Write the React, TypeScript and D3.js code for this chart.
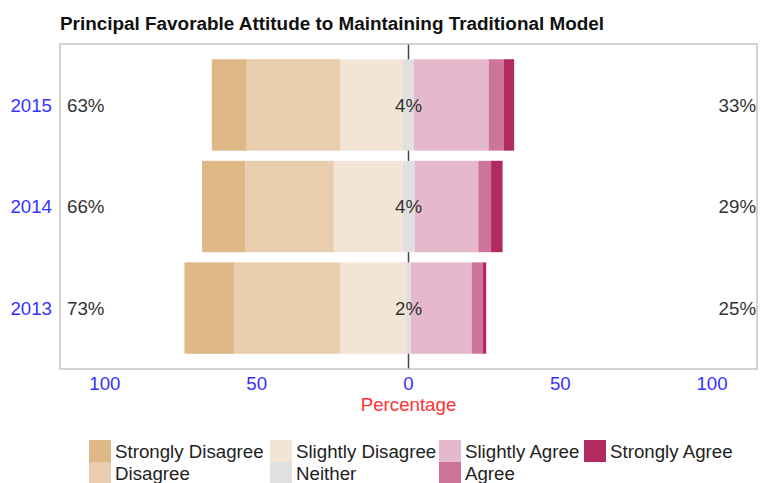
import React from "react";
import * as d3 from "d3";

const years = ["2015", "2014", "2013"];
const categories = [
  "Strongly Disagree",
  "Disagree",
  "Slightly Disagree",
  "Neither",
  "Slightly Agree",
  "Agree",
  "Strongly Agree",
];
const colors = ["#DEB887", "#E8CDAE", "#F3E5D5", "#E0E0E0", "#E6B8CB", "#CC7598", "#B22B60"];

// values per year, in category order
const stronglyDisagree = [11.5, 14.2, 16.3];
const disagree = [30.8, 29.2, 34.9];
const slightlyDisagree = [20.7, 22.6, 21.8];
const neither = [3.6, 4.0, 1.6];
const slightlyAgree = [24.6, 21.0, 20.0];
const agree = [5.0, 4.2, 3.6];
const stronglyAgree = [3.4, 3.8, 1.2];

const tickValues = [-100, -50, 0, 50, 100];

const title = "Principal Favorable Attitude to Maintaining Traditional Model";
const xTitle = "Percentage";

const W = 760;
const H = 483;
const FONT = "'Liberation Sans', Arial, Helvetica, sans-serif";

export default function App() {
  const panel = { left: 60, right: 757, top: 44, bottom: 369 };
  const x = d3.scaleLinear().domain([-114.8, 114.8]).range([panel.left, panel.right]);
  const y = d3
    .scaleBand<string>()
    .domain(years)
    .range([panel.top, panel.bottom])
    .paddingInner(0.1)
    .paddingOuter(0.15);

  const series = [
    stronglyDisagree,
    disagree,
    slightlyDisagree,
    neither,
    slightlyAgree,
    agree,
    stronglyAgree,
  ];

  const segs: { year: string; cat: number; x0: number; x1: number }[] = [];
  years.forEach((yr, i) => {
    const n = neither[i];
    segs.push({ year: yr, cat: 3, x0: -n / 2, x1: n / 2 });
    let cur = -n / 2;
    [2, 1, 0].forEach((c) => {
      const v = series[c][i];
      segs.push({ year: yr, cat: c, x0: cur - v, x1: cur });
      cur -= v;
    });
    cur = n / 2;
    [4, 5, 6].forEach((c) => {
      const v = series[c][i];
      segs.push({ year: yr, cat: c, x0: cur, x1: cur + v });
      cur += v;
    });
  });

  const leftPct = years.map((_, i) => Math.round(stronglyDisagree[i] + disagree[i] + slightlyDisagree[i]));
  const rightPct = years.map((_, i) => Math.round(slightlyAgree[i] + agree[i] + stronglyAgree[i]));
  const midPct = years.map((_, i) => Math.round(neither[i]));

  const bw = y.bandwidth();
  const fs = 18.7;

  const legendCols = [89, 270, 439, 584];
  const legendItems = [
    { cat: 0, col: 0, row: 0 },
    { cat: 1, col: 0, row: 1 },
    { cat: 2, col: 1, row: 0 },
    { cat: 3, col: 1, row: 1 },
    { cat: 4, col: 2, row: 0 },
    { cat: 5, col: 2, row: 1 },
    { cat: 6, col: 3, row: 0 },
  ];

  return (
    <svg
      width={W}
      height={H}
      style={{ position: "absolute", left: 0, top: 0, background: "#fff" }}
      fontFamily={FONT}
    >
      <rect x={0} y={0} width={W} height={H} fill="#fff" />
      <text x={60} y={30} fontSize={18.9} fontWeight="bold" fill="#111">
        {title}
      </text>

      <line
        x1={x(0)}
        x2={x(0)}
        y1={panel.top}
        y2={panel.bottom}
        stroke="#444"
        strokeWidth={1.5}
      />

      {segs.map((s, k) => (
        <rect
          key={k}
          x={x(s.x0)}
          y={y(s.year)!}
          width={x(s.x1) - x(s.x0)}
          height={bw}
          fill={colors[s.cat]}
        />
      ))}

      <rect
        x={panel.left}
        y={panel.top}
        width={panel.right - panel.left}
        height={panel.bottom - panel.top}
        fill="none"
        stroke="#C4C4C4"
        strokeWidth={1.5}
      />

      {years.map((yr, i) => {
        const cy = y(yr)! + bw / 2 + 6.7;
        return (
          <g key={yr} fontSize={fs}>
            <text x={52} y={cy} textAnchor="end" fill="#3333FF">
              {yr}
            </text>
            <text x={67} y={cy} fill="#333">
              {leftPct[i]}%
            </text>
            <text x={x(0)} y={cy} textAnchor="middle" fill="#333">
              {midPct[i]}%
            </text>
            <text x={756} y={cy} textAnchor="end" fill="#333">
              {rightPct[i]}%
            </text>
          </g>
        );
      })}

      {tickValues.map((t) => (
        <text key={t} x={x(t)} y={390} textAnchor="middle" fontSize={fs} fill="#3333FF">
          {Math.abs(t)}
        </text>
      ))}
      <text x={x(0)} y={411} textAnchor="middle" fontSize={fs} fill="#FF3333">
        {xTitle}
      </text>

      {legendItems.map((it) => {
        const kx = legendCols[it.col];
        const ky = 440 + it.row * 22;
        return (
          <g key={it.cat}>
            <rect x={kx} y={ky} width={22} height={22} fill={colors[it.cat]} />
            <text x={kx + 26} y={ky + 18} fontSize={fs} fill="#222">
              {categories[it.cat]}
            </text>
          </g>
        );
      })}
    </svg>
  );
}
